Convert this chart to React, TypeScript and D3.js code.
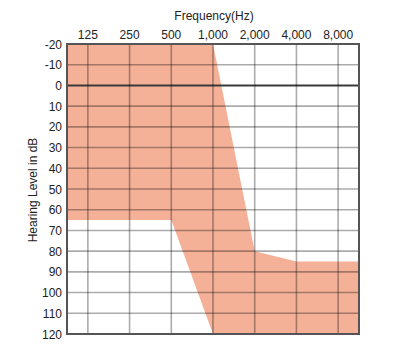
import React from "react";
import * as d3 from "d3";

const frequencies = [125, 250, 500, 1000, 2000, 4000, 8000];
const freqLabels = ["125", "250", "500", "1,000", "2,000", "4,000", "8,000"];
const dbTicks = [-20, -10, 0, 10, 20, 30, 40, 50, 60, 70, 80, 90, 100, 110, 120];
// Shaded region boundary: upper edge (left to right) then lower edge (right to left)
const upperFreq = [125 / Math.SQRT2, 1000, 2000, 4000, 8000 * Math.SQRT2];
const upperDb = [-20, -20, 80, 85, 85];
const lowerFreq = [8000 * Math.SQRT2, 1000, 500, 125 / Math.SQRT2];
const lowerDb = [120, 120, 65, 65];

const W = 400, H = 350;
const left = 67, right = 359, top = 44, bottom = 334;
const FONT = "'Liberation Sans', Arial, sans-serif";

export default function App() {
  const x = d3.scaleLog().base(2).domain([125 / Math.SQRT2, 8000 * Math.SQRT2]).range([left, right]);
  const y = d3.scaleLinear().domain([-20, 120]).range([top, bottom]);

  const pts: [number, number][] = [
    ...upperFreq.map((f, i) => [x(f), y(upperDb[i])] as [number, number]),
    ...lowerFreq.map((f, i) => [x(f), y(lowerDb[i])] as [number, number]),
  ];
  const area = d3.line()(pts) + "Z";

  return (
    <svg width={W} height={H} style={{ position: "absolute", left: 0, top: 0, background: "#fff" }}>
      <rect x={left} y={top} width={right - left} height={bottom - top} fill="#fff" />
      <path d={area} fill="#f4b198" />
      {dbTicks.map((d) => (
        <line key={"h" + d} x1={left} x2={right} y1={y(d)} y2={y(d)}
          stroke={d === 0 ? "#3a3a3a" : "#000"} strokeOpacity={d === 0 ? 1 : 0.33}
          strokeWidth={d === 0 ? 2 : 1.6} />
      ))}
      {frequencies.map((f) => (
        <line key={"v" + f} x1={x(f)} x2={x(f)} y1={top} y2={bottom}
          stroke="#000" strokeOpacity={0.33} strokeWidth={1.6} />
      ))}
      <rect x={left} y={top} width={right - left} height={bottom - top} fill="none" stroke="#555" strokeWidth={2} />
      {frequencies.map((f, i) => (
        <text key={"xl" + f} x={x(f)} y={39} textAnchor="middle" fontFamily={FONT} fontSize={12} fill="#222">
          {freqLabels[i]}
        </text>
      ))}
      {dbTicks.map((d) => (
        <text key={"yl" + d} x={62} y={y(d) + 4.5} textAnchor="end" fontFamily={FONT} fontSize={12} fill="#222">
          {d}
        </text>
      ))}
      <text x={214} y={20} textAnchor="middle" fontFamily={FONT} fontSize={12} fill="#222">Frequency(Hz)</text>
      <text transform={`translate(37,${190}) rotate(-90)`} textAnchor="middle" fontFamily={FONT} fontSize={12} fill="#222">
        Hearing Level in dB
      </text>
    </svg>
  );
}
